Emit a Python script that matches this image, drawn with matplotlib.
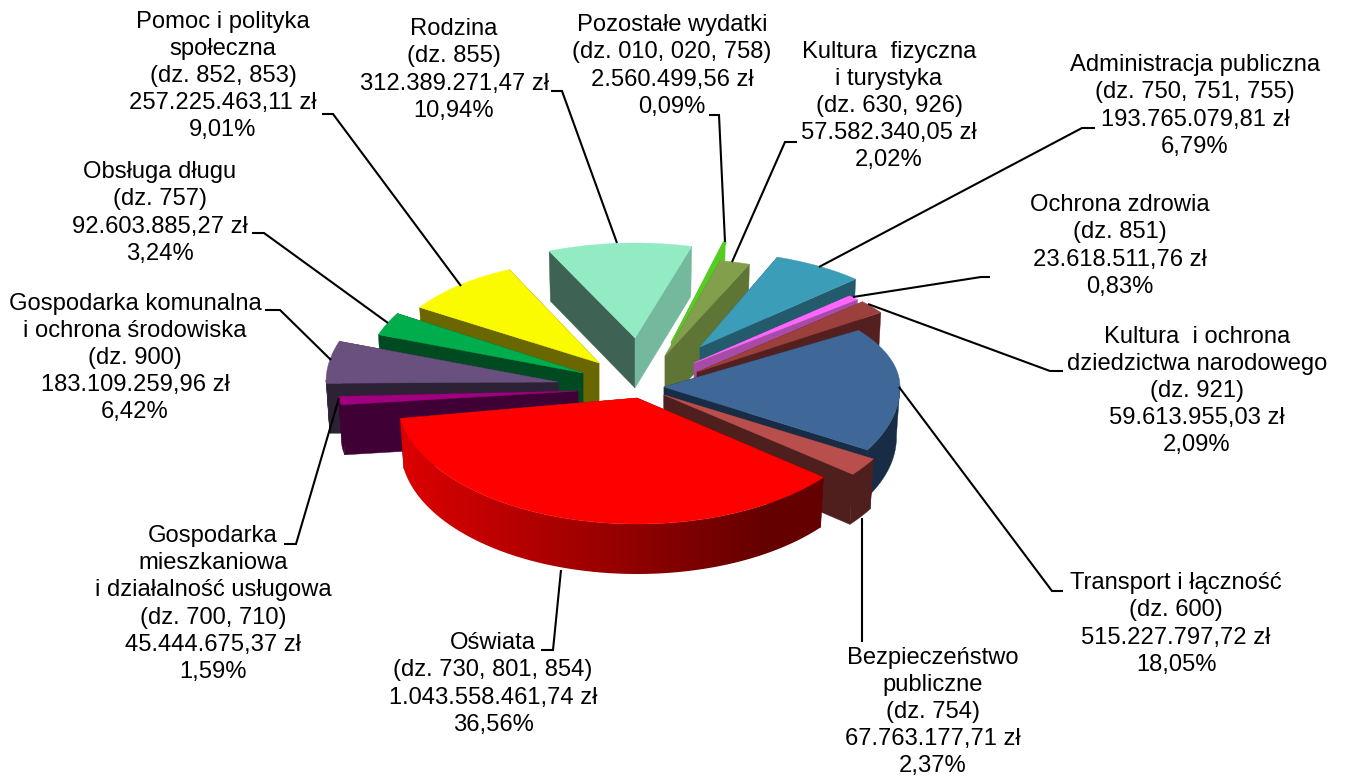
import numpy as np
import matplotlib
matplotlib.use("Agg")
import matplotlib.pyplot as plt
from matplotlib.patches import Polygon

plt.rcParams['font.family'] = ['Liberation Sans', 'DejaVu Sans']

# ---- data (clockwise from the chart's first slice) ----
names = ["Pozostałe wydatki", "Kultura  fizyczna\ni turystyka", "Administracja publiczna",
         "Ochrona zdrowia", "Kultura  i ochrona\ndziedzictwa narodowego", "Transport i łączność",
         "Bezpieczeństwo\npubliczne", "Oświata", "Gospodarka\nmieszkaniowa\ni działalność usługowa",
         "Gospodarka komunalna\ni ochrona środowiska", "Obsługa długu",
         "Pomoc i polityka\nspołeczna", "Rodzina"]
sections = ["(dz. 010, 020, 758)", "(dz. 630, 926)", "(dz. 750, 751, 755)", "(dz. 851)", "(dz. 921)",
            "(dz. 600)", "(dz. 754)", "(dz. 730, 801, 854)", "(dz. 700, 710)", "(dz. 900)", "(dz. 757)",
            "(dz. 852, 853)", "(dz. 855)"]
amounts = [2560499.56, 57582340.05, 193765079.81, 23618511.76, 59613955.03, 515227797.72,
           67763177.71, 1043558461.74, 45444675.37, 183109259.96, 92603885.27, 257225463.11, 312389271.47]
percents = ["0,09%", "2,02%", "6,79%", "0,83%", "2,09%", "18,05%", "2,37%", "36,56%", "1,59%",
            "6,42%", "3,24%", "9,01%", "10,94%"]

# ---- layout and style, one entry per slice ----
start_angle = 77.0
apex = [(672, 343), (665, 356), (700, 347), (694, 363), (697, 372), (664, 387), (664, 395),
        (637, 398), (578, 391), (558, 382), (583, 373), (599, 363), (635, 338)]
rx = [231, 240, 220, 220, 223, 236, 243, 240, 240, 232, 217, 213, 212]
ry_up = [103, 98, 96, 95, 105, 100, 100, 100, 100, 122, 115, 103, 95]
ry_dn = [100, 100, 100, 100, 100, 124, 126, 126, 85, 20, 100, 100, 100]
twist = [0, 0, 0, 0, 0, 0, 0, 0, 0, 0, 0, -1.5, -2.5]
depth = 50
top_c = ["#55cc22", "#82a04c", "#3c9db9", "#ff66ff", "#9c403d", "#3f6797", "#b94f4c", "#ff0000",
         "#a0007f", "#69507f", "#00ad4d", "#fbfb00", "#93ebc4"]
side_c = ["#55cc22", "#5f7535", "#235a6c", "#a64ca6", "#54201f", "#182d45", "#4f1f1e", "#700000",
          "#3f0035", "#2d2136", "#004a22", "#6a6600", "#3e6355"]
end_face_c = list(side_c)
end_face_c[12] = "#74b99d"
draw_order = [12, 11, 10, 9, 8, 0, 1, 2, 3, 4, 5, 6, 7]

text_xy = [(672, 66), (889, 106), (1195, 106), (1120, 246), (1197, 391), (1176, 624), (933, 712),
           (493, 684), (213, 604), (135, 358), (160, 213), (223, 76), (454, 70)]
leaders = [[(725, 242), (719, 115), (709, 115)],
           [(732, 262), (785, 142), (797, 142)],
           [(819, 267), (1082, 128), (1095, 128)],
           [(853, 297), (981, 277), (990, 277)],
           [(868, 304), (1050, 371), (1063, 371)],
           [(899, 387), (1052, 591), (1063, 591)],
           [(862, 518), (862, 642)],
           [(561, 570), (553, 650), (541, 650)],
           [(339, 398), (296, 544), (284, 544)],
           [(331, 360), (280, 310), (265, 310)],
           [(388, 323), (264, 233), (252, 233)],
           [(461, 286), (333, 114), (322, 114)],
           [(617, 243), (562, 91), (551, 91)]]


def money(v):
    s = f"{v:,.2f}".replace(",", " ").replace(".", ",").replace(" ", ".")
    return s + " zł"


fig = plt.figure(figsize=(13.48, 7.78), dpi=100)
ax = fig.add_axes([0, 0, 1, 1])
ax.set_xlim(0, 1348)
ax.set_ylim(778, 0)
ax.axis("off")

sweeps = np.array(amounts) / np.sum(amounts) * 360.0
edges = start_angle - np.concatenate([[0], np.cumsum(sweeps)])


def point(i, t, z=0.0):
    t = np.radians(t)
    s = np.sin(t)
    b = ry_up[i] if s > 0 else ry_dn[i]
    k = 0.985 if z else 1.0
    return (apex[i][0] + k * rx[i] * np.cos(t), apex[i][1] + z - b * s)


for i in draw_order:
    a0, a1 = edges[i] + twist[i], edges[i + 1] + twist[i]
    ts = np.linspace(a0, a1, max(int(abs(a0 - a1) * 2), 2) + 1)
    ax0, ay0 = apex[i]
    # radial faces
    for t, col in ((a0, side_c[i]), (a1, end_face_c[i])):
        ax.add_patch(Polygon([(ax0, ay0), point(i, t), point(i, t, depth), (ax0, ay0 + depth)],
                             closed=True, fc=col, ec=col, lw=0.3))
    # outer rim
    front = [t for t in ts if np.sin(np.radians(t)) < 0.02]
    if len(front) > 1:
        rim = [point(i, t) for t in front] + [point(i, t, depth) for t in reversed(front)]
        if i == 7:
            shape = Polygon(rim, closed=True, fc="none", ec="none", transform=ax.transData)
            ax.add_patch(shape)
            xs = np.linspace(380, 850, 470)
            frac = np.interp(xs, [400, 770], [0, 1])
            shade = np.zeros((1, xs.size, 3))
            shade[0, :, 0] = (0xdd + (0x64 - 0xdd) * frac) / 255
            im = ax.imshow(shade, extent=(380, 850, 600, 380), aspect="auto", zorder=1,
                           interpolation="bilinear")
            im.set_clip_path(shape)
            ax.set_xlim(0, 1348)
            ax.set_ylim(778, 0)
        else:
            ax.add_patch(Polygon(rim, closed=True, fc=side_c[i], ec=side_c[i], lw=0.3))
    # top surface
    top = [(ax0, ay0)] + [point(i, t) for t in ts]
    ax.add_patch(Polygon(top, closed=True, fc=top_c[i], ec=top_c[i],
                         lw=2.0 if i == 0 else 0.3, joinstyle="round"))

for i, pts in enumerate(leaders):
    xs, ys = zip(*pts)
    ax.plot(xs, ys, color="black", lw=1.5, solid_joinstyle="miter", solid_capstyle="butt")

for i in range(len(names)):
    label = f"{names[i]}\n{sections[i]}\n{money(amounts[i])}\n{percents[i]}"
    ax.text(text_xy[i][0], text_xy[i][1], label, ha="center", va="center", multialignment="center",
            fontsize=17.1, linespacing=1.307, color="black")

fig.savefig("out.png", dpi=100, facecolor="white")
